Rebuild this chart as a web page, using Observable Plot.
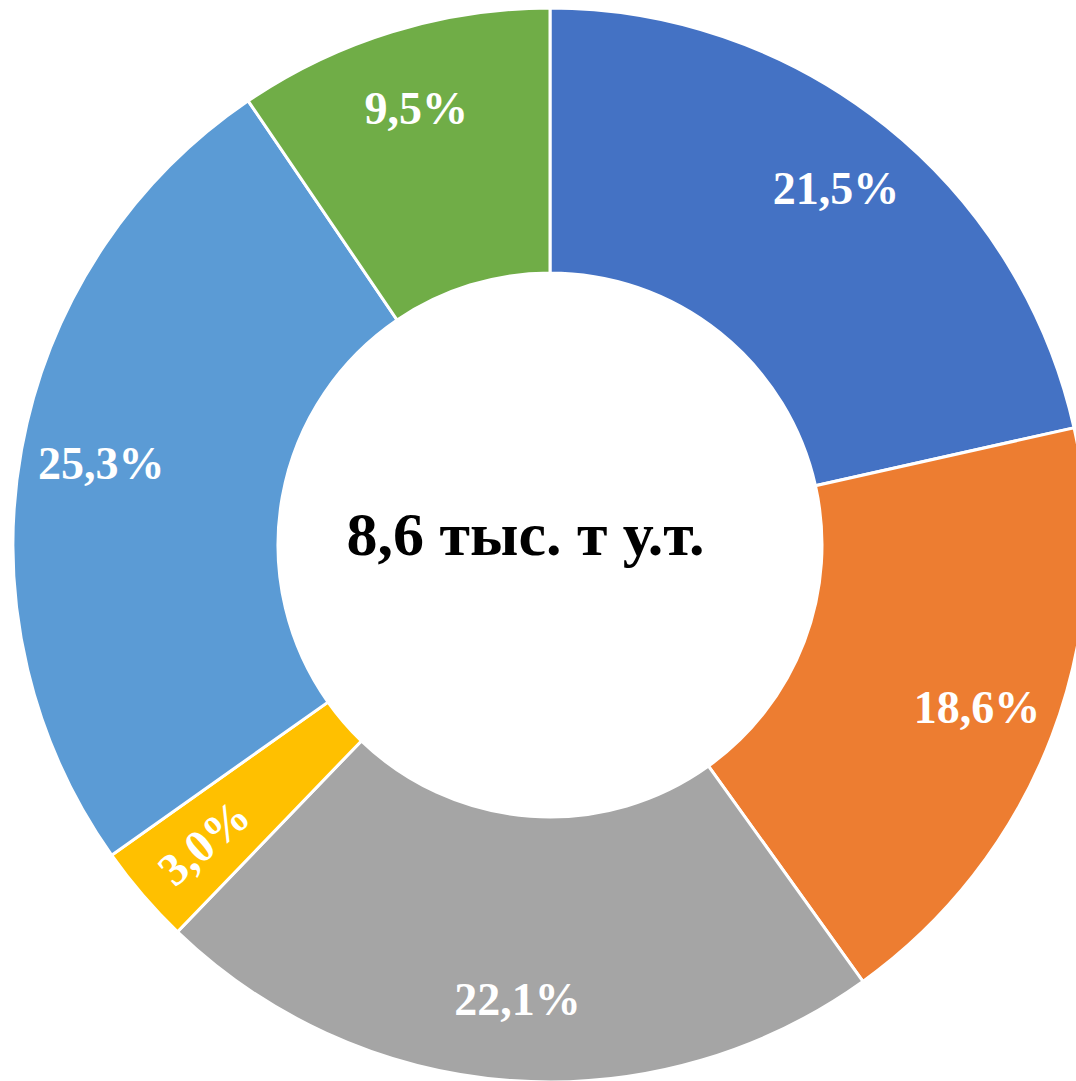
<!DOCTYPE html>
<html>
<head>
<meta charset="utf-8">
<script src="https://cdn.jsdelivr.net/npm/d3@7"></script>
<script src="https://cdn.jsdelivr.net/npm/@observablehq/plot@0.6"></script>
<style>
  html, body { margin: 0; padding: 0; background: #fff; overflow: hidden; }
  #chart svg { display: block; overflow: hidden; }
</style>
</head>
<body>
<div id="chart"></div>
<script>
// ---- Data ----
const categories = ["Сегмент 1", "Сегмент 2", "Сегмент 3", "Сегмент 4", "Сегмент 5", "Сегмент 6"];
const shares = [21.5, 18.6, 22.1, 3.0, 25.3, 9.5];
const shareLabels = ["21,5%", "18,6%", "22,1%", "3,0%", "25,3%", "9,5%"];
const sliceColors = ["#4472C4", "#ED7D31", "#A5A5A5", "#FFC000", "#5B9BD5", "#70AD47"];
const centerLabel = "8,6 тыс. т у.т.";

// ---- Layout ----
const W = 1076, H = 1081;
const R_PX = 537;              // outer radius in pixels
const CX = 550, CY = 545;      // centre in pixels
const innerRatio = 272 / 537;  // donut hole
const labelRatio = 0.85;       // label radius relative to outer radius

const table = categories.map((c, i) => ({
  category: c, share: shares[i], label: shareLabels[i], color: sliceColors[i]
}));
const arcs = d3.pie().sort(null).value(d => d.share)(table);
const labelData = arcs.map(a => {
  const mid = (a.startAngle + a.endAngle) / 2;
  const deg = mid * 180 / Math.PI;
  return {
    label: a.data.label,
    x: labelRatio * Math.sin(mid),
    y: labelRatio * Math.cos(mid),
    rotate: a.data.share < 5 ? deg - 270 : 0
  };
});

function donut(index, scales) {
  const {x, y} = scales;
  const cx = x(0), cy = y(0);
  const k = x(1) - x(0);
  const arc = d3.arc().innerRadius(innerRatio * k).outerRadius(k);
  const g = d3.create("svg:g").attr("transform", `translate(${cx},${cy})`);
  g.selectAll("path").data(arcs).join("path")
    .attr("d", arc)
    .attr("fill", d => d.data.color)
    .attr("stroke", "#fff")
    .attr("stroke-width", 3);
  return g.node();
}

const chart = Plot.plot({
  width: W, height: H,
  margin: 0,
  x: {domain: [-CX / R_PX, (W - CX) / R_PX], range: [0, W], axis: null},
  y: {domain: [-(H - CY) / R_PX, CY / R_PX], range: [H, 0], axis: null},
  style: {background: "#fff", overflow: "hidden"},
  marks: [
    donut,
    Plot.text(labelData, {
      x: "x", y: "y", text: "label", rotate: "rotate",
      fill: "#fff", fontSize: 46, fontWeight: "bold",
      fontFamily: "'Liberation Serif', 'Times New Roman', serif",
      textAnchor: "middle", lineAnchor: "middle"
    }),
    Plot.text([centerLabel], {
      x: () => 0, y: () => 0, text: d => d,
      fill: "#000", fontSize: 62, fontWeight: "bold",
      fontFamily: "'Liberation Serif', 'Times New Roman', serif",
      textAnchor: "middle", lineAnchor: "middle", dx: -25, dy: -10
    })
  ]
});
document.getElementById("chart").appendChild(chart);
</script>
</body>
</html>
